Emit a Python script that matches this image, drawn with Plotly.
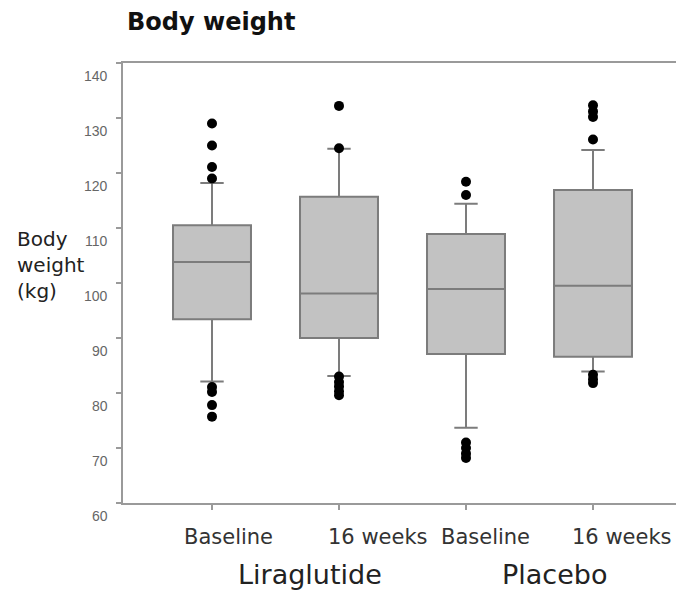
import plotly.graph_objects as go

# Box-plot summary statistics (kg) for each group/time point
positions = [0, 1, 2, 3]
time_labels = ["Baseline", "16 weeks", "Baseline", "16 weeks"]
group_labels = ["Liraglutide", "Placebo"]
q1 = [93.4, 90.0, 87.1, 86.6]
median = [103.8, 98.1, 98.9, 99.5]
q3 = [110.5, 115.7, 108.9, 116.9]
lower_fence = [82.1, 83.1, 73.7, 83.9]
upper_fence = [118.2, 124.4, 114.4, 124.2]

# Individual outlying observations per box
outliers = [
    [129.0, 125.0, 121.1, 119.0, 81.1, 80.2, 77.8, 75.7],
    [132.2, 124.5, 83.0, 82.0, 81.2, 80.3, 79.6],
    [118.4, 116.0, 71.0, 70.0, 69.0, 68.2],
    [132.3, 131.2, 130.2, 126.1, 83.3, 82.5, 81.8],
]

y_ticks = [60, 70, 80, 90, 100, 110, 120, 130, 140]

AXIS_GRAY = "#9a9a9a"
TEXT = "#333333"

fig = go.Figure()

fig.add_trace(go.Box(
    x=positions,
    q1=q1, median=median, q3=q3,
    lowerfence=lower_fence, upperfence=upper_fence,
    width=0.614,
    whiskerwidth=0.3,
    fillcolor="#c2c2c2",
    line=dict(color="#7c7c7c", width=2),
    boxpoints=False,
    showlegend=False,
    hoverinfo="skip",
))

out_x = [p for p, vals in zip(positions, outliers) for _ in vals]
out_y = [v for vals in outliers for v in vals]
fig.add_trace(go.Scatter(
    x=out_x, y=out_y, mode="markers",
    marker=dict(color="black", size=10),
    showlegend=False, hoverinfo="skip",
))

annotations = []

# y tick labels sit slightly below their tick marks
for v in y_ticks:
    annotations.append(dict(
        x=-0.0235, xref="paper", y=v, yref="y", yshift=-13,
        text=str(v), showarrow=False, xanchor="right", yanchor="middle",
        font=dict(family="Liberation Sans, Arial, sans-serif", size=14, color="#666666"),
    ))

# time-point labels under each box
for xp, lab in zip([0.190, 0.461, 0.656, 0.902], time_labels):
    annotations.append(dict(
        x=xp, xref="paper", y=-0.0773, yref="paper",
        text=lab, showarrow=False, xanchor="center", yanchor="middle",
        font=dict(family="DejaVu Sans, sans-serif", size=21, color=TEXT),
    ))

# treatment group labels
for xp, lab in zip([0.338, 0.781], group_labels):
    annotations.append(dict(
        x=xp, xref="paper", y=-0.1636, yref="paper",
        text=lab, showarrow=False, xanchor="center", yanchor="middle",
        font=dict(family="DejaVu Sans, sans-serif", size=27, color="#222222"),
    ))

# y-axis title, stacked on three lines
annotations.append(dict(
    x=-0.1953, xref="paper", y=0.541, yref="paper",
    text="Body<br>weight<br>(kg)", showarrow=False, align="left",
    xanchor="left", yanchor="middle",
    font=dict(family="DejaVu Sans, sans-serif", size=20, color="#222222"),
))

fig.update_layout(
    width=676, height=592,
    margin=dict(l=123, r=0, t=63, b=89),
    paper_bgcolor="white", plot_bgcolor="white",
    title=dict(
        text="<b>Body weight</b>",
        x=127 / 676, xref="container", xanchor="left",
        y=1 - 22 / 592, yref="container", yanchor="middle",
        font=dict(family="DejaVu Sans, sans-serif", size=24, color="#111111"),
    ),
    annotations=annotations,
    xaxis=dict(
        range=[-0.7008, 3.6535],
        tickvals=positions, showticklabels=False,
        ticks="outside", ticklen=5, tickwidth=1.5, tickcolor=AXIS_GRAY,
        showline=True, linecolor=AXIS_GRAY, linewidth=2, mirror=True,
        showgrid=False, zeroline=False,
    ),
    yaxis=dict(
        range=[60, 140],
        tickvals=y_ticks, showticklabels=False,
        ticks="outside", ticklen=5, tickwidth=1.5, tickcolor=AXIS_GRAY,
        showline=True, linecolor=AXIS_GRAY, linewidth=2,
        showgrid=False, zeroline=False,
    ),
)

fig.write_html("out.html")
